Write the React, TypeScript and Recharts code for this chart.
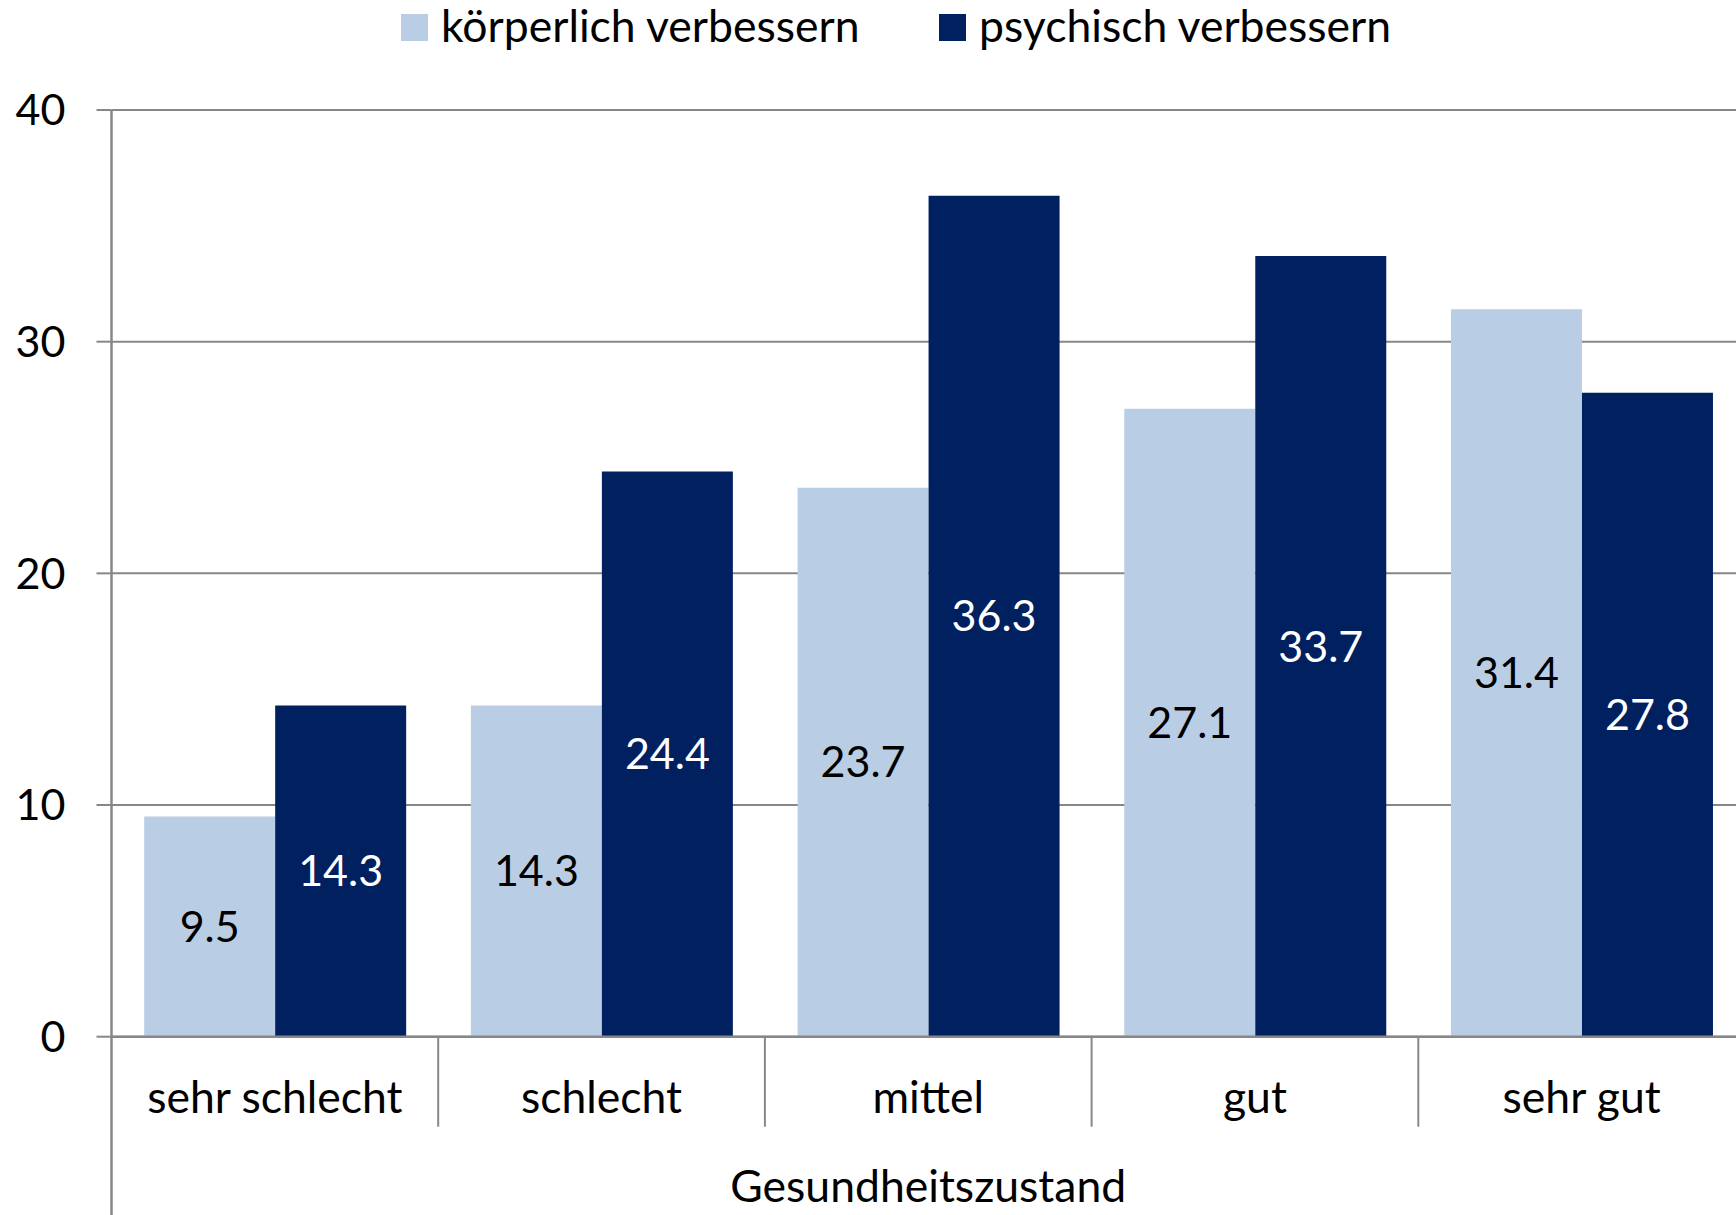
import { BarChart, Bar, XAxis, YAxis, CartesianGrid, Legend, LabelList } from 'recharts'

const CATEGORIES = ['sehr schlecht', 'schlecht', 'mittel', 'gut', 'sehr gut']
const KOERPERLICH = [9.5, 14.3, 23.7, 27.1, 31.4]
const PSYCHISCH = [14.3, 24.4, 36.3, 33.7, 27.8]
const Y_TICKS = [0, 10, 20, 30, 40]
const SERIES_NAMES = ['körperlich verbessern', 'psychisch verbessern']

const LIGHT = '#B9CDE5'
const DARK = '#002060'
const GRID = '#878787'
const FONT = 'Lato, "Open Sans", sans-serif'
const TEXT_SIZE = 44.5
const NUM_SIZE = 43

const data = CATEGORIES.map((name, i) => ({
  name,
  koerperlich: KOERPERLICH[i],
  psychisch: PSYCHISCH[i],
}))

function CategoryTick(props: any) {
  const { x, y, payload, index, width, visibleTicksCount } = props
  const half = width / (visibleTicksCount || CATEGORIES.length) / 2
  return (
    <g>
      {index === 0 && (
        <line x1={x - half} x2={x - half} y1={y} y2={y + 400} stroke={GRID} strokeWidth={2.5} />
      )}
      <line x1={x + half} x2={x + half} y1={y} y2={y + 90} stroke={GRID} strokeWidth={2} />
      <text x={x} y={y + 76.6} textAnchor="middle" fontSize={TEXT_SIZE} fill="#000" fontFamily={FONT}>
        {payload.value}
      </text>
    </g>
  )
}

function LegendContent() {
  const items = [
    { name: SERIES_NAMES[0], color: LIGHT, x: 401 },
    { name: SERIES_NAMES[1], color: DARK, x: 939 },
  ]
  return (
    <svg width={1736} height={60} style={{ display: 'block' }}>
      {items.map((it) => (
        <g key={it.name}>
          <rect x={it.x} y={14} width={27} height={27} fill={it.color} />
          <text x={it.x + 40} y={42} fontSize={TEXT_SIZE} fill="#000" fontFamily={FONT}>
            {it.name}
          </text>
        </g>
      ))}
    </svg>
  )
}

export default function App() {
  return (
    <div
      style={{
        position: 'fixed',
        left: 0,
        top: 0,
        width: 1736,
        height: 1215,
        overflow: 'hidden',
        background: '#fff',
        fontFamily: FONT,
      }}
    >
      <BarChart
        width={1760}
        height={1215}
        data={data}
        margin={{ top: 110, right: 15, bottom: 0, left: 0 }}
        barCategoryGap="10%"
        barGap={0}
      >
        <CartesianGrid vertical={false} stroke={GRID} strokeWidth={2} />
        <XAxis
          dataKey="name"
          height={178.3}
          tickLine={false}
          tickSize={0}
          tickMargin={0}
          axisLine={{ stroke: GRID, strokeWidth: 2.5 }}
          tick={<CategoryTick />}
          interval={0}
          label={{
            value: 'Gesundheitszustand',
            position: 'insideBottom',
            offset: 13,
            fontSize: TEXT_SIZE,
            fill: '#000',
            fontFamily: FONT,
          }}
        />
        <YAxis
          width={111.5}
          domain={[0, 40]}
          ticks={Y_TICKS}
          interval={0}
          tickSize={15}
          tickMargin={31}
          tickLine={{ stroke: GRID, strokeWidth: 2 }}
          axisLine={{ stroke: GRID, strokeWidth: 2.5 }}
          tick={{ fontSize: NUM_SIZE, fill: '#000', fontFamily: FONT }}
        />
        <Legend
          verticalAlign="middle"
          layout="horizontal"
          align="center"
          content={<LegendContent />}
          wrapperStyle={{ top: 0, left: 0, width: 1736, height: 60 }}
        />
        <Bar dataKey="koerperlich" name={SERIES_NAMES[0]} fill={LIGHT} isAnimationActive={false}>
          <LabelList
            dataKey="koerperlich"
            position="center"
            fill="#000"
            fontSize={NUM_SIZE}
            fontFamily={FONT}
            formatter={(v: any) => Number(v).toFixed(1)}
          />
        </Bar>
        <Bar dataKey="psychisch" name={SERIES_NAMES[1]} fill={DARK} isAnimationActive={false}>
          <LabelList
            dataKey="psychisch"
            position="center"
            fill="#fff"
            fontSize={NUM_SIZE}
            fontFamily={FONT}
            formatter={(v: any) => Number(v).toFixed(1)}
          />
        </Bar>
      </BarChart>
    </div>
  )
}
